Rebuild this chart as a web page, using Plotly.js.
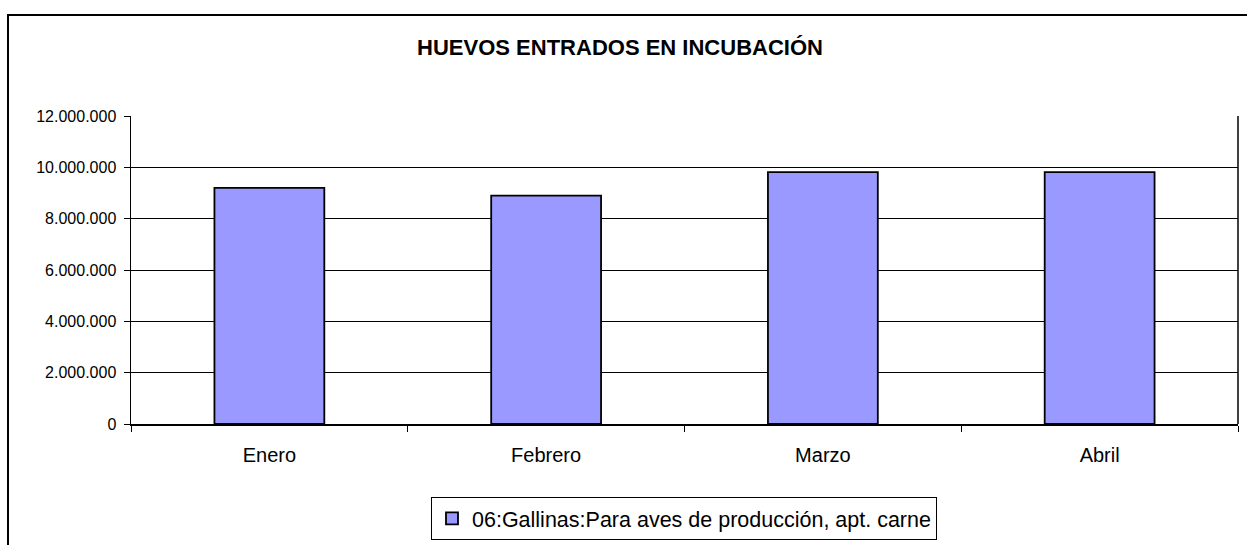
<!DOCTYPE html>
<html>
<head>
<meta charset="utf-8">
<script src="https://cdn.plot.ly/plotly-3.0.1.min.js"></script>
<style>
html,body{margin:0;padding:0;background:#fff;overflow:hidden;}
#frame{position:absolute;left:7px;top:14px;width:1300px;height:600px;border-left:2px solid #000;border-top:2px solid #000;}
#chart{position:absolute;left:0;top:0;width:1247px;height:545px;}
</style>
</head>
<body>
<div id="frame"></div>
<div id="chart"></div>
<script>
const chartTitle = "HUEVOS ENTRADOS EN INCUBACIÓN";
const months = ["Enero", "Febrero", "Marzo", "Abril"];
const seriesName = "06:Gallinas:Para aves de producción, apt. carne";
const values = [9200000, 8900000, 9810000, 9810000];
const yTicks = [0, 2000000, 4000000, 6000000, 8000000, 10000000, 12000000];

const font = "Liberation Sans, Arial, sans-serif";

const trace = {
  type: "bar",
  x: months,
  y: values,
  name: seriesName,
  showlegend: true,
  marker: {color: "#9999FF", line: {color: "#000000", width: 1.8}},
  hoverinfo: "x+y"
};

const layout = {
  width: 1247,
  height: 545,
  margin: {l: 131, r: 9, t: 116, b: 121, autoexpand: false},
  paper_bgcolor: "rgba(0,0,0,0)",
  plot_bgcolor: "#ffffff",
  separators: ",.",
  bargap: 0.603,
  title: {
    text: "<b>" + chartTitle + "</b>",
    font: {family: font, size: 22, color: "#000"},
    x: 620/1247, xanchor: "center", xref: "container",
    y: 1 - 47/545, yanchor: "middle", yref: "container"
  },
  xaxis: {
    type: "category",
    tickson: "boundaries",
    ticks: "outside",
    ticklen: 6,
    tickcolor: "#000",
    tickwidth: 1,
    ticklabelstandoff: 12,
    automargin: false,
    showgrid: false,
    showline: true,
    linecolor: "#000",
    linewidth: 1.5,
    tickfont: {family: font, size: 20, color: "#000"},
    fixedrange: true
  },
  yaxis: {
    range: [0, 12000000],
    tickvals: yTicks,
    tickformat: ",d",
    ticks: "outside",
    ticklen: 6,
    tickcolor: "#000",
    ticklabelstandoff: 4,
    automargin: false,
    showgrid: true,
    gridcolor: "#000",
    gridwidth: 1,
    zeroline: false,
    showline: true,
    linecolor: "#000",
    linewidth: 1.5,
    tickfont: {family: font, size: 16, color: "#000"},
    fixedrange: true
  },
  shapes: [
    {type: "line", xref: "paper", yref: "paper", x0: 1, x1: 1, y0: 0, y1: 1,
     line: {color: "#000", width: 1.5}}
  ],
  showlegend: true,
  legend: {
    orientation: "h",
    xref: "container", yref: "container",
    x: 684/1247, xanchor: "center",
    y: 1 - 497/545, yanchor: "top",
    bordercolor: "#000",
    borderwidth: 1,
    bgcolor: "#fff",
    font: {family: font, size: 21.5, color: "#000"}
  }
};

Plotly.newPlot("chart", [trace], layout, {displayModeBar: false, staticPlot: true});
</script>
</body>
</html>
